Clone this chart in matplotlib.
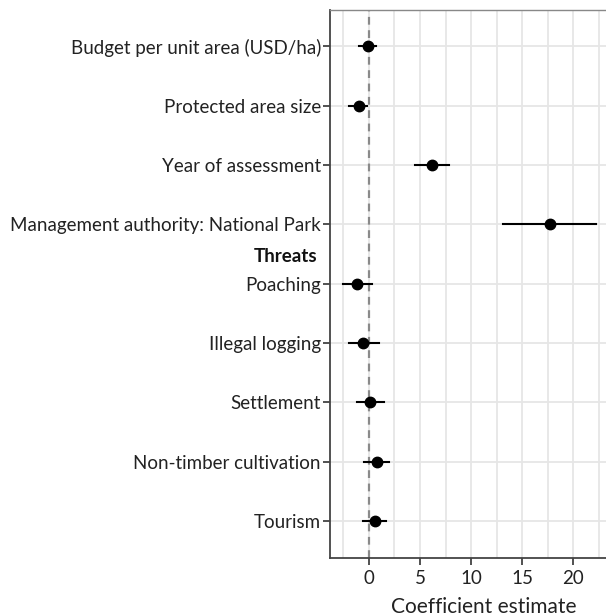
import matplotlib
matplotlib.use("Agg")
import matplotlib.pyplot as plt
import matplotlib.transforms as mtransforms

plt.rcParams['font.family'] = ['Lato', 'DejaVu Sans']

labels = ["Budget per unit area (USD/ha)", "Protected area size", "Year of assessment",
          "Management authority: National Park", "Poaching", "Illegal logging",
          "Settlement", "Non-timber cultivation", "Tourism"]
estimates = [-0.1, -0.95, 6.2, 17.7, -1.2, -0.55, 0.1, 0.8, 0.6]
lower = [-1.0, -1.9, 4.55, 13.1, -2.55, -1.9, -1.2, -0.5, -0.55]
upper = [0.7, -0.2, 7.8, 22.2, 0.35, 1.0, 1.45, 2.0, 1.7]
xticks = [0, 5, 10, 15, 20]

fig = plt.figure(figsize=(6.06, 6.16), dpi=100)
ax = fig.add_axes([330/606, 1-558/616, 1-330/606, (558-10)/616])

n = len(labels)
ys = list(range(n, 0, -1))

ax.set_xlim(-3.8, 23.2)
ax.set_ylim(0.38, n + 0.61)

for v in [-2.5, 2.5, 7.5, 12.5, 17.5, 22.5] + xticks:
    ax.axvline(v, color='#e6e6e6', lw=1.3, zorder=0)
for y in ys:
    ax.axhline(y, color='#e6e6e6', lw=1.3, zorder=0)

ax.axvline(0, color='#8a8a8a', lw=1.6, ls=(0, (3.5, 2.5)), zorder=1)

for y, e, lo, hi in zip(ys, estimates, lower, upper):
    ax.plot([lo, hi], [y, y], color='black', lw=1.5, zorder=2)
    ax.plot([e], [y], 'o', color='black', ms=7.5, zorder=3)

ax.set_yticks(ys)
ax.set_yticklabels(labels, fontsize=13.5, color='#222222')
ax.set_xticks(xticks)
ax.set_xticklabels([str(t) for t in xticks], fontsize=13.5, color='#222222')
ax.tick_params(axis='y', length=5, width=1.2, color='#333333', pad=1.5)
ax.tick_params(axis='x', length=5, width=1.2, color='#333333', pad=4)
ax.set_xlabel("Coefficient estimate", fontsize=15, color='#222222')
ax.xaxis.set_label_coords(0.558, -0.071)

for s in ['left', 'bottom']:
    ax.spines[s].set_color('#444444')
    ax.spines[s].set_linewidth(1.3)
ax.spines['top'].set_color('#888888')
ax.spines['top'].set_linewidth(1.0)
ax.spines['right'].set_visible(False)

trans = mtransforms.blended_transform_factory(ax.transAxes, ax.transData)
ax.text(-0.045, 5.46, "Threats", transform=trans, ha='right', va='center',
        fontsize=13.5, fontweight='bold', color='#111111')

fig.savefig("out.png", dpi=100)
